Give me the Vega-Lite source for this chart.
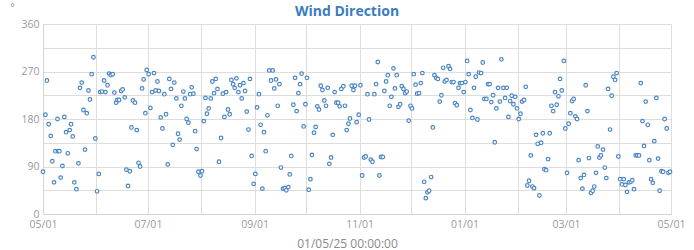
{
 "$schema": "https://vega.github.io/schema/vega-lite/v6.json",
 "width": 628,
 "height": 190,
 "autosize": {"type": "none"},
 "padding": {"left": 43, "top": 24, "right": 23, "bottom": 36},
 "background": "white",
 "title": {"text": "Wind Direction", "font": "Open Sans", "fontSize": 14, "fontWeight": "bold", "color": "#3b7cc0", "anchor": "middle", "dx": -10, "dy": 23, "offset": 6},
 "config": {"view": {"stroke": "#dddddd"}, "font": "Open Sans"},
 "data": {"values": [
  {"time":"2024-05-01T00:00","deg":80},{"time":"2024-05-02T10:00","deg":188},{"time":"2024-05-03T07:00","deg":253},{"time":"2024-05-04T07:00","deg":170},{"time":"2024-05-05T12:00","deg":148},{"time":"2024-05-06T10:00","deg":100},{"time":"2024-05-07T10:00","deg":60},{"time":"2024-05-08T05:00","deg":119},{"time":"2024-05-09T10:00","deg":180},{"time":"2024-05-09T17:00","deg":119},{"time":"2024-05-10T12:00","deg":119},{"time":"2024-05-11T07:00","deg":69},{"time":"2024-05-12T07:00","deg":91},{"time":"2024-05-13T10:00","deg":184},{"time":"2024-05-14T10:00","deg":155},{"time":"2024-05-15T10:00","deg":115},{"time":"2024-05-16T12:00","deg":159},{"time":"2024-05-17T07:00","deg":170},{"time":"2024-05-18T07:00","deg":147},{"time":"2024-05-19T05:00","deg":60},{"time":"2024-05-20T10:00","deg":47},{"time":"2024-05-21T14:00","deg":96},{"time":"2024-05-22T12:00","deg":239},{"time":"2024-05-23T12:00","deg":249},{"time":"2024-05-24T12:00","deg":197},{"time":"2024-05-25T10:00","deg":122},{"time":"2024-05-26T10:00","deg":191},{"time":"2024-05-27T10:00","deg":234},{"time":"2024-05-28T07:00","deg":217},{"time":"2024-05-29T07:00","deg":265},{"time":"2024-05-30T07:00","deg":297},{"time":"2024-05-31T10:00","deg":143},
  {"time":"2024-06-01T10:00","deg":43},{"time":"2024-06-02T10:00","deg":76},{"time":"2024-06-03T05:00","deg":231},{"time":"2024-06-04T07:00","deg":232},{"time":"2024-06-05T12:00","deg":253},{"time":"2024-06-06T07:00","deg":231},{"time":"2024-06-07T12:00","deg":244},{"time":"2024-06-08T10:00","deg":266},{"time":"2024-06-09T10:00","deg":263},{"time":"2024-06-10T12:00","deg":265},{"time":"2024-06-11T12:00","deg":230},{"time":"2024-06-12T12:00","deg":211},{"time":"2024-06-13T05:00","deg":216},{"time":"2024-06-14T05:00","deg":216},{"time":"2024-06-15T10:00","deg":233},{"time":"2024-06-16T07:00","deg":236},{"time":"2024-06-17T12:00","deg":221},{"time":"2024-06-18T12:00","deg":84},{"time":"2024-06-19T10:00","deg":53},{"time":"2024-06-20T10:00","deg":81},{"time":"2024-06-21T10:00","deg":164},{"time":"2024-06-22T07:00","deg":215},{"time":"2024-06-23T12:00","deg":211},{"time":"2024-06-24T12:00","deg":159},{"time":"2024-06-25T12:00","deg":97},{"time":"2024-06-26T10:00","deg":90},{"time":"2024-06-27T14:00","deg":238},{"time":"2024-06-28T12:00","deg":255},{"time":"2024-06-29T12:00","deg":191},{"time":"2024-06-30T07:00","deg":273},
  {"time":"2024-07-01T10:00","deg":265},{"time":"2024-07-02T10:00","deg":201},{"time":"2024-07-03T10:00","deg":231},{"time":"2024-07-04T12:00","deg":267},{"time":"2024-07-05T12:00","deg":234},{"time":"2024-07-06T12:00","deg":251},{"time":"2024-07-07T10:00","deg":233},{"time":"2024-07-08T10:00","deg":183},{"time":"2024-07-09T10:00","deg":162},{"time":"2024-07-10T12:00","deg":227},{"time":"2024-07-11T12:00","deg":189},{"time":"2024-07-12T12:00","deg":94},{"time":"2024-07-13T10:00","deg":256},{"time":"2024-07-14T10:00","deg":237},{"time":"2024-07-15T10:00","deg":131},{"time":"2024-07-16T07:00","deg":249},{"time":"2024-07-17T12:00","deg":219},{"time":"2024-07-18T12:00","deg":152},{"time":"2024-07-19T10:00","deg":141},{"time":"2024-07-20T10:00","deg":205},{"time":"2024-07-21T14:00","deg":232},{"time":"2024-07-22T12:00","deg":219},{"time":"2024-07-23T12:00","deg":180},{"time":"2024-07-24T12:00","deg":173},{"time":"2024-07-25T12:00","deg":227},{"time":"2024-07-26T10:00","deg":240},{"time":"2024-07-27T10:00","deg":228},{"time":"2024-07-28T10:00","deg":157},{"time":"2024-07-29T07:00","deg":123},{"time":"2024-07-30T07:00","deg":80},{"time":"2024-07-31T12:00","deg":73},
  {"time":"2024-08-01T10:00","deg":81},{"time":"2024-08-02T10:00","deg":176},{"time":"2024-08-03T10:00","deg":220},{"time":"2024-08-04T07:00","deg":190},{"time":"2024-08-05T07:00","deg":200},{"time":"2024-08-06T12:00","deg":219},{"time":"2024-08-07T10:00","deg":251},{"time":"2024-08-08T10:00","deg":229},{"time":"2024-08-09T10:00","deg":256},{"time":"2024-08-10T10:00","deg":237},{"time":"2024-08-11T07:00","deg":99},{"time":"2024-08-12T12:00","deg":144},{"time":"2024-08-13T12:00","deg":228},{"time":"2024-08-14T10:00","deg":184},{"time":"2024-08-15T10:00","deg":231},{"time":"2024-08-16T12:00","deg":198},{"time":"2024-08-17T12:00","deg":189},{"time":"2024-08-18T12:00","deg":254},{"time":"2024-08-19T12:00","deg":246},{"time":"2024-08-20T10:00","deg":239},{"time":"2024-08-21T10:00","deg":257},{"time":"2024-08-22T14:00","deg":231},{"time":"2024-08-23T12:00","deg":244},{"time":"2024-08-24T12:00","deg":219},{"time":"2024-08-25T12:00","deg":248},{"time":"2024-08-26T10:00","deg":233},{"time":"2024-08-27T10:00","deg":194},{"time":"2024-08-28T10:00","deg":160},{"time":"2024-08-29T07:00","deg":256},{"time":"2024-08-30T07:00","deg":110},{"time":"2024-08-31T10:00","deg":57},
  {"time":"2024-09-01T10:00","deg":76},{"time":"2024-09-02T10:00","deg":202},{"time":"2024-09-03T12:00","deg":227},{"time":"2024-09-04T12:00","deg":169},{"time":"2024-09-05T12:00","deg":48},{"time":"2024-09-06T10:00","deg":155},{"time":"2024-09-07T10:00","deg":119},{"time":"2024-09-08T10:00","deg":187},{"time":"2024-09-09T12:00","deg":272},{"time":"2024-09-10T12:00","deg":253},{"time":"2024-09-11T12:00","deg":272},{"time":"2024-09-12T10:00","deg":238},{"time":"2024-09-13T10:00","deg":255},{"time":"2024-09-14T10:00","deg":205},{"time":"2024-09-15T10:00","deg":246},{"time":"2024-09-16T07:00","deg":88},{"time":"2024-09-17T12:00","deg":48},{"time":"2024-09-18T12:00","deg":49},{"time":"2024-09-19T10:00","deg":45},{"time":"2024-09-20T14:00","deg":51},{"time":"2024-09-21T10:00","deg":75},{"time":"2024-09-22T07:00","deg":110},{"time":"2024-09-23T12:00","deg":207},{"time":"2024-09-24T12:00","deg":258},{"time":"2024-09-25T10:00","deg":195},{"time":"2024-09-26T10:00","deg":229},{"time":"2024-09-27T10:00","deg":246},{"time":"2024-09-28T07:00","deg":266},{"time":"2024-09-29T12:00","deg":166},{"time":"2024-09-30T12:00","deg":208},
  {"time":"2024-10-01T10:00","deg":258},{"time":"2024-10-02T10:00","deg":46},{"time":"2024-10-03T10:00","deg":66},{"time":"2024-10-04T07:00","deg":112},{"time":"2024-10-05T12:00","deg":154},{"time":"2024-10-06T12:00","deg":165},{"time":"2024-10-07T10:00","deg":204},{"time":"2024-10-08T10:00","deg":198},{"time":"2024-10-09T10:00","deg":243},{"time":"2024-10-10T10:00","deg":235},{"time":"2024-10-11T12:00","deg":215},{"time":"2024-10-12T12:00","deg":205},{"time":"2024-10-13T12:00","deg":239},{"time":"2024-10-14T10:00","deg":95},{"time":"2024-10-15T10:00","deg":107},{"time":"2024-10-16T10:00","deg":150},{"time":"2024-10-17T12:00","deg":231},{"time":"2024-10-18T12:00","deg":211},{"time":"2024-10-19T12:00","deg":211},{"time":"2024-10-20T10:00","deg":204},{"time":"2024-10-21T10:00","deg":237},{"time":"2024-10-22T14:00","deg":242},{"time":"2024-10-23T12:00","deg":205},{"time":"2024-10-24T12:00","deg":159},{"time":"2024-10-25T12:00","deg":171},{"time":"2024-10-26T10:00","deg":181},{"time":"2024-10-27T10:00","deg":243},{"time":"2024-10-28T10:00","deg":235},{"time":"2024-10-29T07:00","deg":243},{"time":"2024-10-30T07:00","deg":174},{"time":"2024-10-31T12:00","deg":188},
  {"time":"2024-11-01T12:00","deg":244},{"time":"2024-11-02T12:00","deg":73},{"time":"2024-11-03T14:00","deg":107},{"time":"2024-11-04T14:00","deg":109},{"time":"2024-11-05T14:00","deg":227},{"time":"2024-11-06T12:00","deg":179},{"time":"2024-11-07T12:00","deg":103},{"time":"2024-11-08T12:00","deg":99},{"time":"2024-11-09T14:00","deg":227},{"time":"2024-11-10T14:00","deg":246},{"time":"2024-11-11T14:00","deg":288},{"time":"2024-11-12T12:00","deg":73},{"time":"2024-11-13T12:00","deg":108},{"time":"2024-11-14T12:00","deg":108},{"time":"2024-11-15T10:00","deg":233},{"time":"2024-11-16T10:00","deg":251},{"time":"2024-11-17T10:00","deg":263},{"time":"2024-11-18T12:00","deg":205},{"time":"2024-11-19T12:00","deg":222},{"time":"2024-11-20T17:00","deg":276},{"time":"2024-11-21T14:00","deg":238},{"time":"2024-11-22T14:00","deg":263},{"time":"2024-11-23T14:00","deg":203},{"time":"2024-11-24T14:00","deg":208},{"time":"2024-11-25T12:00","deg":242},{"time":"2024-11-26T12:00","deg":237},{"time":"2024-11-27T12:00","deg":229},{"time":"2024-11-28T10:00","deg":232},{"time":"2024-11-29T14:00","deg":177},{"time":"2024-11-30T14:00","deg":205},
  {"time":"2024-12-01T12:00","deg":200},{"time":"2024-12-02T12:00","deg":265},{"time":"2024-12-03T12:00","deg":245},{"time":"2024-12-04T10:00","deg":228},{"time":"2024-12-05T14:00","deg":229},{"time":"2024-12-06T14:00","deg":248},{"time":"2024-12-07T12:00","deg":267},{"time":"2024-12-08T12:00","deg":61},{"time":"2024-12-09T12:00","deg":30},{"time":"2024-12-10T10:00","deg":41},{"time":"2024-12-11T10:00","deg":44},{"time":"2024-12-12T14:00","deg":70},{"time":"2024-12-13T14:00","deg":164},{"time":"2024-12-14T12:00","deg":263},{"time":"2024-12-15T12:00","deg":258},{"time":"2024-12-16T12:00","deg":256},{"time":"2024-12-17T14:00","deg":213},{"time":"2024-12-18T14:00","deg":225},{"time":"2024-12-19T14:00","deg":277},{"time":"2024-12-20T12:00","deg":251},{"time":"2024-12-21T12:00","deg":254},{"time":"2024-12-22T17:00","deg":280},{"time":"2024-12-23T14:00","deg":275},{"time":"2024-12-24T14:00","deg":250},{"time":"2024-12-25T14:00","deg":250},{"time":"2024-12-26T12:00","deg":210},{"time":"2024-12-27T12:00","deg":206},{"time":"2024-12-28T12:00","deg":239},{"time":"2024-12-29T10:00","deg":248},{"time":"2024-12-30T10:00","deg":248},{"time":"2024-12-31T12:00","deg":231},
  {"time":"2025-01-01T12:00","deg":250},{"time":"2025-01-02T12:00","deg":290},{"time":"2025-01-03T10:00","deg":265},{"time":"2025-01-04T10:00","deg":197},{"time":"2025-01-05T14:00","deg":182},{"time":"2025-01-06T12:00","deg":239},{"time":"2025-01-07T12:00","deg":260},{"time":"2025-01-08T12:00","deg":179},{"time":"2025-01-09T10:00","deg":268},{"time":"2025-01-10T14:00","deg":267},{"time":"2025-01-11T14:00","deg":287},{"time":"2025-01-12T12:00","deg":218},{"time":"2025-01-13T17:00","deg":218},{"time":"2025-01-14T17:00","deg":246},{"time":"2025-01-15T14:00","deg":246},{"time":"2025-01-16T14:00","deg":212},{"time":"2025-01-17T14:00","deg":225},{"time":"2025-01-18T14:00","deg":136},{"time":"2025-01-19T12:00","deg":200},{"time":"2025-01-20T12:00","deg":239},{"time":"2025-01-21T12:00","deg":213},{"time":"2025-01-22T10:00","deg":293},{"time":"2025-01-23T14:00","deg":239},{"time":"2025-01-24T14:00","deg":220},{"time":"2025-01-25T12:00","deg":239},{"time":"2025-01-26T12:00","deg":184},{"time":"2025-01-27T12:00","deg":214},{"time":"2025-01-28T10:00","deg":224},{"time":"2025-01-29T10:00","deg":208},{"time":"2025-01-30T10:00","deg":222},{"time":"2025-01-31T12:00","deg":200},
  {"time":"2025-02-01T12:00","deg":180},{"time":"2025-02-02T12:00","deg":190},{"time":"2025-02-03T10:00","deg":213},{"time":"2025-02-04T14:00","deg":216},{"time":"2025-02-05T14:00","deg":241},{"time":"2025-02-06T12:00","deg":54},{"time":"2025-02-07T12:00","deg":63},{"time":"2025-02-08T12:00","deg":111},{"time":"2025-02-09T10:00","deg":52},{"time":"2025-02-10T10:00","deg":49},{"time":"2025-02-11T14:00","deg":150},{"time":"2025-02-12T12:00","deg":133},{"time":"2025-02-13T12:00","deg":35},{"time":"2025-02-14T12:00","deg":135},{"time":"2025-02-15T12:00","deg":153},{"time":"2025-02-16T10:00","deg":85},{"time":"2025-02-17T10:00","deg":83},{"time":"2025-02-18T14:00","deg":104},{"time":"2025-02-19T12:00","deg":153},{"time":"2025-02-20T12:00","deg":205},{"time":"2025-02-21T12:00","deg":195},{"time":"2025-02-22T14:00","deg":231},{"time":"2025-02-23T14:00","deg":207},{"time":"2025-02-24T14:00","deg":223},{"time":"2025-02-25T12:00","deg":256},{"time":"2025-02-26T12:00","deg":234},{"time":"2025-02-27T17:00","deg":290},{"time":"2025-02-28T14:00","deg":162},
  {"time":"2025-03-01T14:00","deg":78},{"time":"2025-03-02T12:00","deg":171},{"time":"2025-03-03T12:00","deg":191},{"time":"2025-03-04T12:00","deg":214},{"time":"2025-03-05T10:00","deg":218},{"time":"2025-03-06T10:00","deg":185},{"time":"2025-03-07T10:00","deg":180},{"time":"2025-03-08T07:00","deg":102},{"time":"2025-03-09T12:00","deg":68},{"time":"2025-03-10T12:00","deg":48},{"time":"2025-03-11T10:00","deg":74},{"time":"2025-03-12T10:00","deg":244},{"time":"2025-03-13T10:00","deg":195},{"time":"2025-03-14T07:00","deg":106},{"time":"2025-03-15T12:00","deg":40},{"time":"2025-03-16T12:00","deg":44},{"time":"2025-03-17T10:00","deg":52},{"time":"2025-03-18T10:00","deg":78},{"time":"2025-03-19T10:00","deg":128},{"time":"2025-03-20T10:00","deg":107},{"time":"2025-03-21T07:00","deg":111},{"time":"2025-03-22T12:00","deg":122},{"time":"2025-03-23T12:00","deg":88},{"time":"2025-03-24T10:00","deg":68},{"time":"2025-03-25T10:00","deg":237},{"time":"2025-03-26T14:00","deg":160},{"time":"2025-03-27T12:00","deg":224},{"time":"2025-03-28T12:00","deg":260},{"time":"2025-03-29T12:00","deg":254},{"time":"2025-03-30T10:00","deg":267},{"time":"2025-03-31T10:00","deg":109},
  {"time":"2025-04-01T10:00","deg":66},{"time":"2025-04-02T12:00","deg":56},{"time":"2025-04-03T12:00","deg":66},{"time":"2025-04-04T12:00","deg":55},{"time":"2025-04-05T10:00","deg":42},{"time":"2025-04-06T14:00","deg":60},{"time":"2025-04-07T14:00","deg":61},{"time":"2025-04-08T12:00","deg":64},{"time":"2025-04-09T12:00","deg":47},{"time":"2025-04-10T12:00","deg":111},{"time":"2025-04-11T10:00","deg":111},{"time":"2025-04-12T10:00","deg":111},{"time":"2025-04-13T10:00","deg":248},{"time":"2025-04-14T10:00","deg":176},{"time":"2025-04-15T07:00","deg":129},{"time":"2025-04-16T07:00","deg":213},{"time":"2025-04-17T12:00","deg":169},{"time":"2025-04-18T10:00","deg":102},{"time":"2025-04-19T10:00","deg":66},{"time":"2025-04-20T10:00","deg":59},{"time":"2025-04-21T07:00","deg":138},{"time":"2025-04-22T12:00","deg":220},{"time":"2025-04-23T12:00","deg":105},{"time":"2025-04-24T10:00","deg":44},{"time":"2025-04-25T10:00","deg":81},{"time":"2025-04-26T10:00","deg":80},{"time":"2025-04-27T07:00","deg":180},{"time":"2025-04-28T12:00","deg":162},{"time":"2025-04-29T12:00","deg":78},{"time":"2025-04-30T10:00","deg":80}
 ]},
 "mark": {"type": "point", "shape": "circle", "filled": true, "fill": "#ffffff", "stroke": "#4a86c6", "strokeWidth": 1.2, "size": 13, "opacity": 1},
 "encoding": {
  "x": {
   "field": "time", "type": "temporal",
   "scale": {"domain": [{"year": 2024, "month": 5, "date": 1}, {"year": 2025, "month": 5, "date": 1}], "nice": false},
   "axis": {
    "values": [{"year": 2024, "month": 5, "date": 1}, {"year": 2024, "month": 6, "date": 1}, {"year": 2024, "month": 7, "date": 1}, {"year": 2024, "month": 8, "date": 1}, {"year": 2024, "month": 9, "date": 1}, {"year": 2024, "month": 10, "date": 1}, {"year": 2024, "month": 11, "date": 1}, {"year": 2024, "month": 12, "date": 1}, {"year": 2025, "month": 1, "date": 1}, {"year": 2025, "month": 2, "date": 1}, {"year": 2025, "month": 3, "date": 1}, {"year": 2025, "month": 4, "date": 1}, {"year": 2025, "month": 5, "date": 1}],
    "labelExpr": "month(datum.value) % 2 == 0 ? timeFormat(datum.value, '%m/%d') : ''",
    "labelFlush": false, "labelOverlap": false,
    "labelFont": "Open Sans", "labelFontSize": 10.5, "labelColor": "#9a9a9a", "labelPadding": 5,
    "ticks": false, "grid": true, "gridColor": "#dddddd", "gridWidth": 1, "domainColor": "#d4d4d4",
    "title": "01/05/25 00:00:00", "titleFont": "Open Sans", "titleFontSize": 12, "titleFontWeight": "normal", "titleColor": "#8a8a8a",
    "titleX": 304, "titleY": 29.5, "titleBaseline": "middle", "titleAlign": "center"
   }
  },
  "y": {
   "field": "deg", "type": "quantitative",
   "scale": {"domain": [0, 360], "nice": false},
   "axis": {
    "values": [0, 45, 90, 135, 180, 225, 270, 315, 360],
    "labelExpr": "datum.value % 90 == 0 ? datum.label : ''",
    "labelFlush": false, "labelOverlap": false,
    "labelFont": "Open Sans", "labelFontSize": 10.5, "labelColor": "#9a9a9a", "labelPadding": 4,
    "ticks": false, "grid": true, "gridColor": "#dddddd", "gridWidth": 1, "domainColor": "#d4d4d4",
    "title": "°", "titleAngle": 0, "titleX": -31, "titleY": -17, "titleAlign": "center", "titleBaseline": "middle",
    "titleFont": "Open Sans", "titleFontSize": 10, "titleFontWeight": "normal", "titleColor": "#8a8a8a"
   }
  }
 }
}
